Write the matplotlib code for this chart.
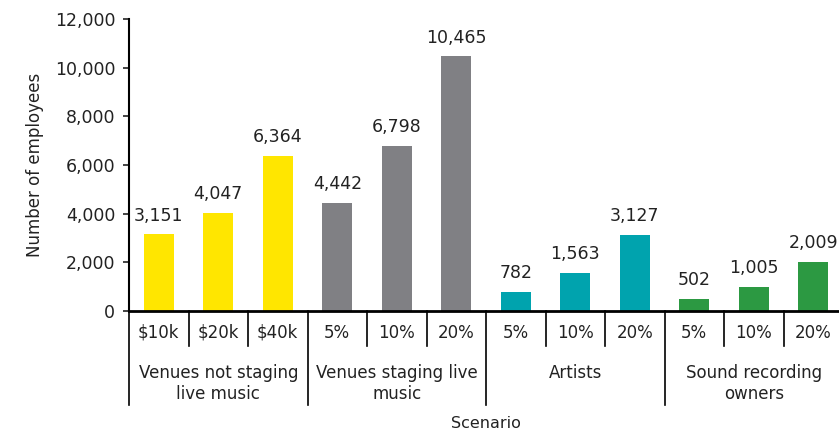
import numpy as np
import matplotlib.pyplot as plt
import matplotlib.transforms as mtransforms

plt.rcParams['font.family'] = ['DejaVu Sans']

# Datos del gráfico
grupos = ['Venues not staging\nlive music', 'Venues staging live\nmusic', 'Artists', 'Sound recording\nowners']
escenarios = ['$10k', '$20k', '$40k', '5%', '10%', '20%', '5%', '10%', '20%', '5%', '10%', '20%']
empleados = [3151, 4047, 6364, 4442, 6798, 10465, 782, 1563, 3127, 502, 1005, 2009]
colores_grupo = ['#FFE600', '#808084', '#00A3AE', '#2C9942']

n_por_grupo = 3
colores = [c for c in colores_grupo for _ in range(n_por_grupo)]
x = np.arange(len(empleados))

fig = plt.figure(figsize=(8.39, 4.32), dpi=100)
ax = fig.add_axes([0.1538, 0.2801, 0.851, 0.676])

ax.bar(x, empleados, width=0.5, color=colores, zorder=2)
for xi, v in zip(x, empleados):
    ax.annotate(f'{v:,}', (xi, v), xytext=(0, 7), textcoords='offset points',
                ha='center', va='bottom', fontsize=12.5, color='#222222')

ax.set_xlim(-0.5, len(empleados) - 0.5)
ax.set_ylim(0, 12000)
ax.set_yticks(np.arange(0, 12001, 2000))
ax.set_yticklabels([f'{t:,}' for t in range(0, 12001, 2000)], fontsize=12.5)
ax.tick_params(axis='y', length=4, width=1.2, pad=6, colors='#222222')
ax.set_xticks([])

for s in ['top', 'right']:
    ax.spines[s].set_visible(False)
ax.spines['left'].set_linewidth(1.5)
ax.spines['bottom'].set_linewidth(2)

ax.set_ylabel('Number of employees', fontsize=12, labelpad=8, color='#222222')

# Etiquetas jerárquicas del eje x
trans = mtransforms.blended_transform_factory(ax.transData, ax.transAxes)
for i in range(len(empleados) + 1):
    borde = i - 0.5
    fondo = -0.322 if i % n_por_grupo == 0 else -0.12
    ax.plot([borde, borde], [0, fondo], color='black', lw=1.2, transform=trans, clip_on=False)
for xi, lab in zip(x, escenarios):
    ax.text(xi, -0.075, lab, transform=trans, ha='center', va='center', fontsize=12, color='#222222')
for g, lab in enumerate(grupos):
    centro = g * n_por_grupo + (n_por_grupo - 1) / 2
    ax.text(centro, -0.18, lab, transform=trans, ha='center', va='top', fontsize=12,
            color='#222222', linespacing=1.25)

ax.text(0.5, -0.385, 'Scenario', transform=ax.transAxes, ha='center', va='center',
        fontsize=11.5, color='#222222')

fig.savefig('out.png', dpi=100)
